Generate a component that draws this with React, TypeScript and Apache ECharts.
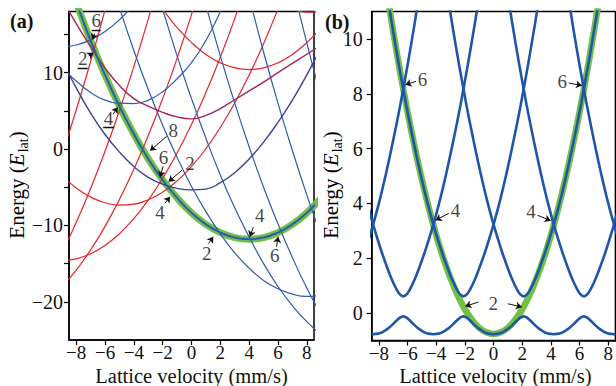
import React, { useEffect, useRef } from "react";
import * as echarts from "echarts";

const FONT = "Liberation Serif, DejaVu Serif, Times New Roman, serif";

// ---------- tick values ----------
const xTicks = [-8, -6, -4, -2, 0, 2, 4, 6, 8];
const yTicksA = [-20, -15, -10, -5, 0, 5, 10, 15];
const yLabelsA = [-20, -10, 0, 10];
const yTicksB = [0, 2, 4, 6, 8, 10];

// ---------- panel (a): curves ----------
const greenA = [[-9, 24.5], [-8, 19.2], [-7, 14.2], [-6, 9.7], [-5, 5.6], [-4, 1.96], [-3, -1.3], [-2, -4.06], [-1, -6.4], [0, -8.36], [1, -9.87], [2, -10.94], [3, -11.59], [4, -11.8], [5, -11.59], [6, -10.94], [7, -9.87], [8, -8.36], [9, -6.4]];
const blueA1 = [[-6, 24.4], [-5, 18.5], [-4, 12.9], [-3, 7.8], [-2, 3.1], [-1, -1.1], [0, -4.9], [1, -8.2], [2, -11.1], [3, -13.6], [4, -15.6], [5, -17.2], [6, -18.3], [7, -19.0], [8, -19.3], [9, -19.1]];
const blueA2 = [[-3, 24.8], [-2, 18.3], [-1, 12.2], [0, 6.6], [1, 1.4], [2, -3.4], [3, -7.7], [4, -11.5], [5, -15.0], [6, -18.0], [7, -20.5], [8, -22.6], [9, -24.3]];
const blueA3 = [[0, 25.8], [1, 18.8], [2, 12.2], [3, 6.0], [4, 0.3], [5, -5.0], [6, -9.8], [7, -14.2], [8, -18.2], [9, -21.7]];
const blueA4 = [[3, 27.4], [4, 19.9], [5, 12.7], [6, 6.0], [7, -0.2], [8, -6.0], [9, -11.4]];
const blueA5 = [[7, 21.6], [8, 13.9], [9, 6.7]];
const blueAm2 = [[-9, 10.6], [-8, 8.9], [-7, 7.4], [-6, 6.4], [-5, 6.0], [-4, 5.95], [-3, 6.4], [-2, 7.5], [-1, 9.2], [0, 11.3], [1, 14.2], [2, 18.0], [3, 22.3]];
const blueAm3 = [[-9, 13.4], [-8, 13.62], [-7, 14.28], [-6, 15.38], [-5, 16.92], [-4, 18.9], [-3, 21.3]];
const purpleLowA = [[-9, 11.7], [-8, 8.0], [-7, 4.7], [-6, 1.9], [-5, -0.4], [-4, -2.3], [-3, -3.7], [-2, -4.6], [-1, -5.15], [0, -5.35], [1, -5.25], [2, -4.4], [3, -3.1], [4, -1.3], [5, 0.9], [6, 3.5], [7, 6.4], [8, 9.7], [9, 13.3]];
const purpleHighA = [[-9, 19.8], [-8, 16.4], [-7, 13.4], [-6, 10.6], [-5, 8.3], [-4, 6.6], [-3, 5.6], [-2, 4.8], [-1, 4.2], [0, 3.95], [1, 4.4], [2, 5.3], [3, 6.45], [4, 7.6], [5, 8.75], [6, 10.0], [7, 11.2], [8, 12.4], [9, 13.6]];
const redA0 = [[-9, -3.47], [-8, -5.1], [-7, -6.29], [-6, -7.03], [-5, -7.34], [-4, -7.21], [-3, -6.64], [-2, -5.63], [-1, -4.17], [0, -2.28], [1, 0.05], [2, 2.82], [3, 6.03], [4, 9.69], [5, 13.78], [6, 18.31], [7, 23.28]];
const redAm1 = [[-9, -14.6], [-8, -14.38], [-7, -13.72], [-6, -12.62], [-5, -11.08], [-4, -9.1], [-3, -6.68], [-2, -3.82], [-1, -0.52], [0, 3.22], [1, 7.4], [2, 12.02], [3, 17.08], [4, 22.58]];
const redAm2 = [[-9, -18.05], [-8, -15.85], [-7, -13.2], [-6, -10.13], [-5, -6.6], [-4, -2.65], [-3, 1.76], [-2, 6.6], [-1, 11.88], [0, 17.6], [1, 23.76]];
const redAm3 = [[-9, -13.63], [-8, -9.62], [-7, -5.18], [-6, -0.3], [-5, 5.03], [-4, 10.79], [-3, 17.0], [-2, 23.64]];
const redAm4 = [[-9, -0.79], [-8, 5.1], [-7, 11.44], [-6, 18.22], [-5, 25.43]];
const redA2 = [[-3, 21.18], [-2, 18.32], [-1, 15.9], [0, 13.92], [1, 12.38], [2, 11.28], [3, 10.62], [4, 10.4], [5, 10.62], [6, 11.28], [7, 12.38], [8, 13.92], [9, 15.9]];
const redA3 = [[6, 19.06], [7, 18.27], [8, 17.92], [9, 18.0]];

// ---------- panel (b) ----------
const lowerBandB = [[-8.5, -0.775], [-8.4, -0.775], [-8.05, -0.75], [-7.8, -0.71], [-7.55, -0.63], [-7.3, -0.54], [-7.05, -0.42], [-6.8, -0.29], [-6.55, -0.17], [-6.3, -0.11], [-6.05, -0.17], [-5.8, -0.29], [-5.55, -0.42], [-5.3, -0.54], [-5.05, -0.63], [-4.8, -0.71], [-4.55, -0.75], [-4.2, -0.775], [-3.85, -0.75], [-3.6, -0.71], [-3.35, -0.63], [-3.1, -0.54], [-2.85, -0.42], [-2.6, -0.29], [-2.35, -0.17], [-2.1, -0.11], [-1.85, -0.17], [-1.6, -0.29], [-1.35, -0.42], [-1.1, -0.54], [-0.85, -0.63], [-0.6, -0.71], [-0.35, -0.75], [0, -0.775], [0.35, -0.75], [0.6, -0.71], [0.85, -0.63], [1.1, -0.54], [1.35, -0.42], [1.6, -0.29], [1.85, -0.17], [2.1, -0.11], [2.35, -0.17], [2.6, -0.29], [2.85, -0.42], [3.1, -0.54], [3.35, -0.63], [3.6, -0.71], [3.85, -0.75], [4.2, -0.775], [4.55, -0.75], [4.8, -0.71], [5.05, -0.63], [5.3, -0.54], [5.55, -0.42], [5.8, -0.29], [6.05, -0.17], [6.3, -0.11], [6.55, -0.17], [6.8, -0.29], [7.05, -0.42], [7.3, -0.54], [7.55, -0.63], [7.8, -0.71], [8.05, -0.75], [8.4, -0.775], [8.5, -0.775]];
const bandBm105 = [[-9.0, 2.22], [-8.5, 3.05], [-8.0, 4.0], [-7.5, 5.09], [-7.0, 6.3], [-6.5, 7.61], [-6.0, 9.04], [-5.5, 10.58], [-5.0, 12.24]];
const bandBm63 = [[-9.3, 5.09], [-8.8, 4.0], [-8.3, 3.05], [-7.8, 2.22], [-7.3, 1.49], [-7.05, 1.17], [-6.8, 0.9], [-6.55, 0.69], [-6.3, 0.61], [-6.05, 0.69], [-5.8, 0.9], [-5.55, 1.17], [-5.3, 1.49], [-4.8, 2.22], [-4.3, 3.05], [-3.8, 4.0], [-3.3, 5.09], [-2.8, 6.3], [-2.3, 7.61], [-1.8, 9.04], [-1.3, 10.58], [-0.8, 12.24]];
const bandBm21 = [[-7.6, 12.24], [-7.1, 10.58], [-6.6, 9.04], [-6.1, 7.61], [-5.6, 6.3], [-5.1, 5.09], [-4.6, 4.0], [-4.1, 3.05], [-3.6, 2.22], [-3.1, 1.49], [-2.85, 1.17], [-2.6, 0.9], [-2.35, 0.69], [-2.1, 0.61], [-1.85, 0.69], [-1.6, 0.9], [-1.35, 1.17], [-1.1, 1.49], [-0.6, 2.22], [-0.1, 3.05], [0.4, 4.0], [0.9, 5.09], [1.4, 6.3], [1.9, 7.61], [2.4, 9.04], [2.9, 10.58], [3.4, 12.24]];
const bandBp21 = [[-3.4, 12.24], [-2.9, 10.58], [-2.4, 9.04], [-1.9, 7.61], [-1.4, 6.3], [-0.9, 5.09], [-0.4, 4.0], [0.1, 3.05], [0.6, 2.22], [1.1, 1.49], [1.35, 1.17], [1.6, 0.9], [1.85, 0.69], [2.1, 0.61], [2.35, 0.69], [2.6, 0.9], [2.85, 1.17], [3.1, 1.49], [3.6, 2.22], [4.1, 3.05], [4.6, 4.0], [5.1, 5.09], [5.6, 6.3], [6.1, 7.61], [6.6, 9.04], [7.1, 10.58], [7.6, 12.24]];
const bandBp63 = [[0.8, 12.24], [1.3, 10.58], [1.8, 9.04], [2.3, 7.61], [2.8, 6.3], [3.3, 5.09], [3.8, 4.0], [4.3, 3.05], [4.8, 2.22], [5.3, 1.49], [5.55, 1.17], [5.8, 0.9], [6.05, 0.69], [6.3, 0.61], [6.55, 0.69], [6.8, 0.9], [7.05, 1.17], [7.3, 1.49], [7.8, 2.22], [8.3, 3.05], [8.8, 4.0], [9.3, 5.09]];
const bandBp105 = [[5.0, 12.24], [5.5, 10.58], [6.0, 9.04], [6.5, 7.61], [7.0, 6.3], [7.5, 5.09], [8.0, 4.0], [8.5, 3.05], [9.0, 2.22]];
const greenB = [[-7.5, 11.9], [-7, 10.27], [-6.5, 8.75], [-6, 7.34], [-5.5, 6.05], [-5, 4.87], [-4.5, 3.8], [-4, 2.84], [-3.5, 2.0], [-3, 1.27], [-2.5, 0.65], [-2, 0.14], [-1.5, -0.25], [-1, -0.54], [-0.5, -0.7], [0, -0.76], [0.5, -0.7], [1, -0.54], [1.5, -0.25], [2, 0.14], [2.5, 0.65], [3, 1.27], [3.5, 2.0], [4, 2.84], [4.5, 3.8], [5, 4.87], [5.5, 6.05], [6, 7.34], [6.5, 8.75], [7, 10.27], [7.5, 11.9]];

// ---------- annotations (data coordinates) ----------
const labelsA = [
  { name: "6", value: [-6.61, 16.84] }, { name: "2", value: [-7.55, 11.87] }, { name: "4", value: [-5.76, 4.03] },
  { name: "8", value: [-1.26, 2.46] }, { name: "6", value: [-1.95, -1.07] }, { name: "2", value: [-0.1, -1.9] },
  { name: "4", value: [-2.18, -8.26] }, { name: "4", value: [4.74, -8.66] }, { name: "2", value: [1.05, -13.67] },
  { name: "6", value: [5.78, -13.89] },
];
const arrowsA = [
  [[-6.72, 15.1], [-6.9, 14.35]], [[-7.13, 12.2], [-6.82, 12.6]], [[-5.44, 4.55], [-5.12, 5.47]],
  [[-1.72, 1.67], [-2.87, -0.22]], [[-1.97, -2.25], [-2.18, -3.69]], [[-0.66, -2.77], [-1.59, -4.28]],
  [[-1.84, -7.09], [-1.49, -6.24]], [[4.29, -10.23], [4.05, -11.47]], [[1.18, -12.38], [1.51, -11.49]],
  [[5.9, -12.78], [6.01, -11.49]],
];
const underlinesA = [[[-6.92, 15.5], [-6.3, 15.5]], [[-7.9, 10.63], [-7.2, 10.63]], [[-6.13, 2.79], [-5.37, 2.79]]];
const labelsB = [
  { name: "6", value: [-4.96, 8.51] }, { name: "6", value: [4.79, 8.45] }, { name: "4", value: [-2.66, 3.73] },
  { name: "4", value: [2.61, 3.7] }, { name: "2", value: [-0.03, 0.34] },
];
const arrowsB = [
  [[-5.41, 8.45], [-6.15, 8.33]], [[5.25, 8.39], [6.16, 8.3]], [[-3.12, 3.64], [-4.04, 3.39]],
  [[3.07, 3.57], [3.98, 3.37]], [[-1.06, 0.4], [-1.97, 0.25]], [[1.0, 0.34], [1.97, 0.22]],
];

const RED = "#ec2229";
const BLUE_A = "#2b5cb2";
const BLUE_B = "#1f56a8";
const GREEN = "#72c046";
const PURPLE_LOW = "#3e3f9e";
const PURPLE_HIGH = "#a3255c";

const fmt = (v: number) => (v < 0 ? "\u2212" + Math.abs(v) : String(v));

function curve(data: number[][], color: string, width: number, axis: number, z = 2, smooth: boolean | number = true) {
  return {
    type: "line", data, xAxisIndex: axis, yAxisIndex: axis, showSymbol: false, symbol: "none",
    smooth, lineStyle: { color, width }, z, silent: true, clip: true,
  };
}

function textSeries(data: any[], axis: number) {
  return {
    type: "scatter", data, xAxisIndex: axis, yAxisIndex: axis, symbolSize: 1, z: 6, silent: true,
    itemStyle: { color: "rgba(0,0,0,0)" },
    label: { show: true, position: "inside", formatter: "{b}", color: "#111", fontSize: 19, fontFamily: FONT },
  };
}

function arrowSeries(list: number[][][], axis: number, arrow: boolean) {
  return {
    type: "lines", coordinateSystem: "cartesian2d", xAxisIndex: axis, yAxisIndex: axis, z: 6, silent: true,
    symbol: arrow ? ["none", "arrow"] : ["none", "none"], symbolSize: arrow ? 6 : 0,
    lineStyle: { color: "#111", width: arrow ? 1 : 1.3, opacity: 1, curveness: 0 },
    data: list.map((c) => ({ coords: c })),
  };
}

function xAxisCfg(grid: number) {
  return {
    type: "value", gridIndex: grid, min: -8.5, max: 8.5,
    axisLine: { show: true, onZero: false, lineStyle: { color: "#000", width: 1.5 } },
    axisTick: { show: true, inside: false, length: 5, customValues: xTicks, lineStyle: { color: "#000", width: 1.2 } },
    axisLabel: { customValues: xTicks, formatter: fmt, color: "#111", fontSize: 19, lineHeight: 19, fontFamily: FONT, margin: 3 },
    splitLine: { show: false },
  };
}

export default function App() {
  const ref = useRef<HTMLDivElement>(null);
  useEffect(() => {
    if (!ref.current) return;
    const chart = echarts.init(ref.current, undefined, { renderer: "svg" });
    const yTitle = "{n|Energy (}{i|E}{s|lat}{n|)}";
    const yRich = {
      n: { fontSize: 21, fontFamily: FONT, color: "#111", verticalAlign: "top", lineHeight: 22 },
      i: { fontSize: 21, fontFamily: FONT, fontStyle: "italic", color: "#111", verticalAlign: "top", lineHeight: 22 },
      s: { fontSize: 14, fontFamily: FONT, color: "#111", verticalAlign: "top", padding: [10, 0, 0, 1] },
    };
    const option: any = {
      animation: false,
      backgroundColor: "#fff",
      textStyle: { fontFamily: FONT },
      grid: [
        { left: 69, top: 11.5, width: 245, height: 328.5, show: true, borderColor: "#000", borderWidth: 1.5, containLabel: false },
        { left: 371.7, top: 11.5, width: 247.2, height: 329, show: true, borderColor: "#000", borderWidth: 1.5, containLabel: false },
      ],
      xAxis: [xAxisCfg(0), xAxisCfg(1)],
      yAxis: [
        {
          type: "value", gridIndex: 0, min: -25, max: 18,
          axisLine: { show: true, onZero: false, lineStyle: { color: "#000", width: 1.5 } },
          axisTick: { show: true, inside: false, length: 5, customValues: yTicksA, lineStyle: { color: "#000", width: 1.2 } },
          axisLabel: { customValues: yLabelsA, formatter: fmt, color: "#111", fontSize: 20, fontFamily: FONT, margin: 6 },
          splitLine: { show: false },
        },
        {
          type: "value", gridIndex: 1, min: -1, max: 11,
          axisLine: { show: true, onZero: false, lineStyle: { color: "#000", width: 1.5 } },
          axisTick: { show: true, inside: false, length: 5, customValues: yTicksB, lineStyle: { color: "#000", width: 1.2 } },
          axisLabel: { customValues: yTicksB, formatter: fmt, color: "#111", fontSize: 20, fontFamily: FONT, margin: 9 },
          splitLine: { show: false },
        },
      ],
      series: [
        curve(greenA, GREEN, 7, 0, 1),
        curve(redAm4, RED, 1.2, 0),
        curve(redAm3, RED, 1.2, 0),
        curve(redAm2, RED, 1.2, 0),
        curve(redAm1, RED, 1.2, 0),
        curve(redA0, RED, 1.2, 0),
        curve(redA2, RED, 1.2, 0),
        curve(redA3, RED, 1.2, 0),
        curve(blueAm3, BLUE_A, 1.2, 0),
        curve(blueAm2, BLUE_A, 1.2, 0),
        curve(blueA1, BLUE_A, 1.2, 0),
        curve(blueA2, BLUE_A, 1.2, 0),
        curve(blueA3, BLUE_A, 1.2, 0),
        curve(blueA4, BLUE_A, 1.2, 0),
        curve(blueA5, BLUE_A, 1.2, 0),
        curve(purpleLowA, PURPLE_LOW, 1.4, 0),
        curve(purpleHighA, PURPLE_HIGH, 1.4, 0),
        curve(greenA, BLUE_A, 2, 0, 3),
        textSeries(labelsA, 0),
        arrowSeries(arrowsA, 0, true),
        arrowSeries(underlinesA, 0, false),

        curve(greenB, GREEN, 6.5, 1, 1, 0.3),
        curve(lowerBandB, BLUE_B, 2.6, 1, 2, false),
        curve(bandBm105, BLUE_B, 2.6, 1, 2, 0.3),
        curve(bandBm63, BLUE_B, 2.6, 1, 2, 0.3),
        curve(bandBm21, BLUE_B, 2.6, 1, 2, 0.3),
        curve(bandBp21, BLUE_B, 2.6, 1, 2, 0.3),
        curve(bandBp63, BLUE_B, 2.6, 1, 2, 0.3),
        curve(bandBp105, BLUE_B, 2.6, 1, 2, 0.3),
        textSeries(labelsB, 1),
        arrowSeries(arrowsB, 1, true),
      ],
      graphic: [
        { type: "text", left: 10, top: 11, style: { text: "(a)", fontSize: 20, fontWeight: "bold", fontFamily: FONT, fill: "#111" } },
        { type: "text", left: 325, top: 12, style: { text: "(b)", fontSize: 20, fontWeight: "bold", fontFamily: FONT, fill: "#111" } },
        { type: "text", x: 191.5, y: 375.5, style: { text: "Lattice velocity (mm/s)", fontSize: 20.5, lineHeight: 20.5, fontFamily: FONT, fill: "#111", align: "center", verticalAlign: "middle" } },
        { type: "text", x: 495.4, y: 375.5, style: { text: "Lattice velocity (mm/s)", fontSize: 20.5, lineHeight: 20.5, fontFamily: FONT, fill: "#111", align: "center", verticalAlign: "middle" } },
        { type: "text", x: 18, y: 185, rotation: Math.PI / 2, style: { text: yTitle, rich: yRich, align: "center", verticalAlign: "middle", fontFamily: FONT, fontSize: 21 } },
        { type: "text", x: 332, y: 185, rotation: Math.PI / 2, style: { text: yTitle, rich: yRich, align: "center", verticalAlign: "middle", fontFamily: FONT, fontSize: 21 } },
      ],
    };
    chart.setOption(option);
    return () => chart.dispose();
  }, []);
  return (
    <div
      ref={ref}
      style={{ position: "fixed", left: 0, top: 0, width: 616, height: 386, background: "#fff" }}
    />
  );
}
